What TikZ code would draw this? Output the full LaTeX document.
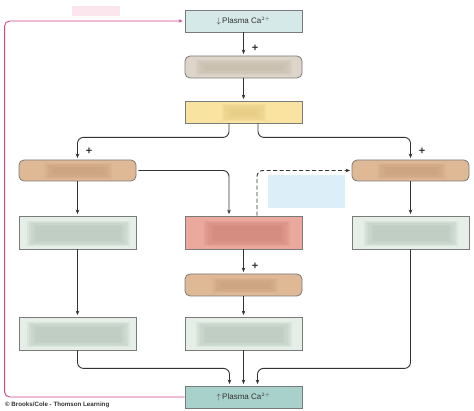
\documentclass[tikz,border=0pt]{standalone}
\usepackage{fontspec}
\setmainfont{Liberation Sans}
\usetikzlibrary{arrows.meta,calc}
\definecolor{lineC}{HTML}{333333}
\definecolor{bordC}{HTML}{7A7A7A}
\definecolor{topC}{HTML}{D4E9E8}
\definecolor{botC}{HTML}{A9D1CB}
\definecolor{greyC}{HTML}{DDD5C9}
\definecolor{yelC}{HTML}{F8E3A1}
\definecolor{tanC}{HTML}{DFB996}
\definecolor{grnC}{HTML}{E5EFE8}
\definecolor{redC}{HTML}{EBA89C}
\definecolor{pinkC}{HTML}{D2438F}
\definecolor{blurG}{HTML}{B4C4B8}
\definecolor{blurT}{HTML}{C99E7C}
\definecolor{blurR}{HTML}{CF8478}
\definecolor{blurY}{HTML}{E3C77E}
\definecolor{blurS}{HTML}{C5B9A9}
\definecolor{blurB}{HTML}{DCEEF8}
\definecolor{blurP}{HTML}{FBE6EE}
\newcommand\softpatch[3]{%
  \foreach \i in {0,1,2,3,4}{%
    \fill[#1, opacity=0.22] ($(#2)+(\i*2.2,\i*1.2)$) rectangle ($(#3)-(\i*2.2,\i*1.2)$);}}
\tikzset{
  box/.style={draw=bordC, line width=0.8pt, minimum width=117pt, inner sep=0pt},
  sqbox/.style={box},
  rbox/.style={box, rounded corners=5pt},
  arr/.style={draw=lineC, line width=0.9pt, -{Stealth[length=4.5pt,width=3.6pt]}, rounded corners=6pt, shorten >=1.5pt},
  plus/.style={font=\bfseries\fontsize{11}{11}\selectfont, text=lineC, inner sep=0pt},
  lbl/.style={font=\fontsize{8}{9}\selectfont, text=lineC}
}
\begin{document}
\begin{tikzpicture}[x=1pt,y=-1pt]
\useasboundingbox (0,0) rectangle (474,411);
\fill[white] (0,0) rectangle (474,411);
% boxes
\node[sqbox, fill=topC, minimum height=22pt, lbl] (top) at (243.5,21) {$\downarrow$\,Plasma Ca$^{\scriptscriptstyle 2+}$};
\node[rbox, fill=greyC, minimum height=22pt] (pth) at (243.5,67) {};
\node[sqbox, fill=yelC, minimum height=22pt] (yel) at (243.5,112) {};
\node[rbox, fill=tanC, minimum height=21pt] (L1) at (77.5,170.5) {};
\node[rbox, fill=tanC, minimum height=21pt] (R1) at (410.5,170.5) {};
\node[sqbox, fill=grnC, minimum height=33pt] (LG) at (77.5,232.5) {};
\node[sqbox, fill=redC, minimum height=33pt] (red) at (243.5,232.5) {};
\node[sqbox, fill=grnC, minimum height=33pt] (RG) at (410.5,232.5) {};
\node[rbox, fill=tanC, minimum height=22pt] (mt) at (243.5,285) {};
\node[sqbox, fill=grnC, minimum height=33pt] (BLG) at (77.5,333.5) {};
\node[sqbox, fill=grnC, minimum height=33pt] (BMG) at (243.5,333.5) {};
\node[sqbox, fill=botC, minimum height=22pt, lbl] (bot) at (243.5,397) {$\uparrow$\,Plasma Ca$^{\scriptscriptstyle 2+}$};
% blurred hidden labels
\softpatch{blurS}{196,60}{292,75}
\softpatch{blurY}{222,104}{266,121}
\softpatch{blurT}{44,163}{112,179}
\softpatch{blurT}{377,163}{446,179}
\softpatch{blurG}{27,221}{130,246}
\softpatch{blurR}{204,221}{290,246}
\softpatch{blurG}{364,221}{458,246}
\softpatch{blurT}{212,278}{278,293}
\softpatch{blurG}{27,322}{130,347}
\softpatch{blurG}{196,322}{292,347}
\fill[blurB] (268,175) rectangle (345,208);
\fill[blurP] (72,6) rectangle (120,16);
% connectors
\draw[arr] (top) -- (pth);
\node[plus] (p1) at (255,48) {+};
\draw[arr] (pth) -- (yel);
\draw[arr] ([xshift=-14.5pt]yel.south) -- ++(0,14) -| (L1.north);
\node[plus] (p2) at (89,151) {+};
\draw[arr] ([xshift=14.5pt]yel.south) -- ++(0,14) -| (R1.north);
\node[plus] (p3) at (422,151) {+};
\draw[arr, shorten <=2pt] (L1.east) -| ([xshift=-14.5pt]red.north);
\draw[arr, dashed, dash pattern=on 4pt off 2.5pt] ([xshift=13.5pt]red.north) |- (R1.west);
\draw[arr] (L1) -- (LG);
\draw[arr] (R1) -- (RG);
\draw[arr] (red) -- (mt);
\node[plus] (p4) at (255,266) {+};
\draw[arr] (mt) -- (BMG);
\draw[arr] (LG) -- (BLG);
\draw[arr] (BLG.south) -- ++(0,18) -| ([xshift=-14pt]bot.north);
\draw[arr] (BMG) -- (bot);
\draw[arr] (RG.south) -- ++(0,119) -| ([xshift=14pt]bot.north);
\draw[draw=pinkC, line width=0.9pt, rounded corners=5pt, -{Stealth[length=4pt,width=3.2pt]}, shorten >=2pt] (bot.west) -- ++(-180,0) |- (top.west);
% credit
\node[anchor=west, inner sep=0pt, font=\bfseries\fontsize{6.2}{7}\selectfont, text=lineC] (cr) at (5,405) {\textcopyright{} Brooks/Cole - Thomson Learning};
\end{tikzpicture}
\end{document}
